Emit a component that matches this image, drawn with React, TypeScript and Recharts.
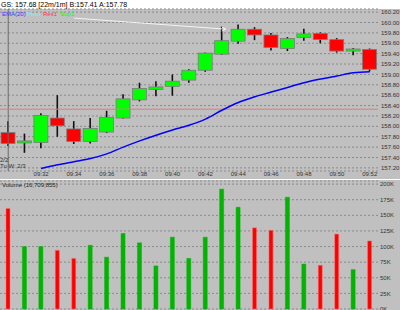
import {
  ComposedChart,
  Bar,
  Line,
  XAxis,
  YAxis,
  CartesianGrid,
  ReferenceLine,
  Cell,
} from "recharts";

const times = [
  "09:30", "09:31", "09:32", "09:33", "09:34", "09:35", "09:36", "09:37",
  "09:38", "09:39", "09:40", "09:41", "09:42", "09:43", "09:44", "09:45",
  "09:46", "09:47", "09:48", "09:49", "09:50", "09:51", "09:52",
];
const opens = [
  157.88, 157.68, 157.69, 158.16, 157.95, 157.71, 157.89, 158.16, 158.51, 158.71, 158.77, 158.89,
  159.08, 159.39, 159.64, 159.87, 159.76, 159.5, 159.71, 159.79, 159.67, 159.45, 159.48,
];
const highs = [
  158.1, 157.86, 158.25, 158.6, 158.1, 158.16, 158.3, 158.62, 158.84, 158.87, 159.0, 159.1,
  159.42, 159.92, 159.96, 159.91, 159.8, 159.72, 159.88, 159.81, 159.7, 159.51, 159.5,
];
const lows = [
  157.62, 157.49, 157.58, 157.8, 157.66, 157.67, 157.87, 158.15, 158.48, 158.58, 158.59, 158.84,
  159.05, 159.38, 159.59, 159.66, 159.46, 159.45, 159.65, 159.6, 159.42, 159.37, 159.06,
];
const closes = [
  157.67, 157.72, 158.21, 158.01, 157.71, 157.96, 158.17, 158.53, 158.73, 158.76, 158.87, 159.08,
  159.41, 159.65, 159.87, 159.76, 159.52, 159.69, 159.78, 159.67, 159.45, 159.49, 159.1,
];
const ema20 = [
  null, null, 157.19, 157.26, 157.32, 157.38, 157.47, 157.6, 157.72, 157.83, 157.93, 158.02,
  158.14, 158.31, 158.46, 158.57, 158.66, 158.75, 158.84, 158.91, 158.97, 159.03, 159.05,
];
const volumes = [
  161000, 100000, 100000, 94000, 81000, 102000, 83000, 121000, 106000, 69000, 115000, 81000,
  115000, 192000, 163000, 130000, 126000, 179000, 72000, 70000, 120000, 63000, 109000,
];
const priceTicks = [
  157.2, 157.4, 157.6, 157.8, 158.0, 158.2, 158.4, 158.6, 158.8, 159.0, 159.2, 159.4, 159.6,
  159.8, 160.0, 160.2,
];
const volumeTicks = [0, 25000, 50000, 75000, 100000, 125000, 150000, 175000, 200000];
const res1 = 158.33;
const trendStart = { x: "09:34", y: 160.085 };
const trendEnd = { x: "09:43", y: 159.873 };

const priceData = times.map((t, i) => ({
  t,
  open: opens[i],
  high: highs[i],
  low: lows[i],
  close: closes[i],
  range: [lows[i], highs[i]],
  ema: ema20[i],
}));

const volumeData = times.map((t, i) => ({
  t,
  vol: volumes[i],
  up: closes[i] >= opens[i],
}));

const font = "'Liberation Sans', Arial, sans-serif";

const Candle = (props: any) => {
  const { x, y, width, height, payload } = props;
  if (x == null || y == null) return null;
  const top = Math.min(y, y + height);
  const h = Math.abs(height);
  const { open, close, high, low } = payload;
  const span = high - low || 1;
  const toY = (v: number) => top + ((high - v) / span) * h;
  const up = close >= open;
  const bTop = toY(Math.max(open, close));
  const bBot = toY(Math.min(open, close));
  const cx = x + width / 2;
  return (
    <g>
      <line x1={cx} x2={cx} y1={top} y2={top + h} stroke="#111" strokeWidth={1.6} />
      <rect
        x={x}
        y={bTop}
        width={width}
        height={Math.max(bBot - bTop, 1.5)}
        fill={up ? "#00ff00" : "#ff0000"}
        stroke="#7c7c7c"
        strokeWidth={0.8}
      />
    </g>
  );
};

const TrendArrow = (p: any) => {
  const { x1, y1, x2, y2 } = p;
  if (x1 == null || x2 == null) return null;
  return (
    <g>
      <line x1={x1} y1={y1} x2={x2 + 3} y2={y2} stroke="#f4f4f4" strokeWidth={1} />
      <path
        d={`M${x2},${y2 - 2} L${x2 + 4},${y2} L${x2},${y2 + 2}`}
        fill="none"
        stroke="#f4f4f4"
        strokeWidth={1}
      />
    </g>
  );
};

const label = (text: string, left: number, top: number, color = "#222", size = 6) => (
  <div
    style={{
      position: "absolute",
      left,
      top,
      fontSize: size,
      lineHeight: 1,
      color,
      fontFamily: font,
      whiteSpace: "nowrap",
    }}
  >
    {text}
  </div>
);

export default function App() {
  return (
    <div
      style={{
        position: "absolute",
        left: 0,
        top: 0,
        width: 400,
        height: 310,
        background: "#c0c0c0",
        overflow: "hidden",
      }}
    >
      <div style={{ position: "absolute", left: 0, top: 0, width: 400, height: 9, background: "#fff" }} />
      {label("GS: 157.68 [22m/1m]  B:157.41 A:157.78", 1, 1, "#000", 7)}

      <div style={{ position: "absolute", left: 0, top: 0 }}>
        <ComposedChart
          width={400}
          height={179}
          data={priceData}
          margin={{ top: 9, right: 0, bottom: 0, left: 0 }}
        >
          <CartesianGrid vertical={false} stroke="#8a8a8a" strokeDasharray="2 2" />
          <XAxis
            dataKey="t"
            interval={0}
            height={8}
            axisLine={false}
            tickLine={false}
            tickSize={0}
            tickMargin={1}
            tick={{ fontSize: 6, fill: "#333", fontFamily: font }}
            tickFormatter={(v: string, i: number) => (i >= 2 && i % 2 === 0 ? v : "")}
          />
          <YAxis
            orientation="right"
            width={22}
            domain={[157.14, 160.26]}
            ticks={priceTicks}
            interval={0}
            axisLine={false}
            tickLine={false}
            tickSize={0}
            tickMargin={3}
            tick={{ fontSize: 6, fill: "#333", fontFamily: font }}
            tickFormatter={(v: number) => v.toFixed(2)}
          />
          <ReferenceLine x="09:30" stroke="#6a6a6a" strokeWidth={1} />
          <ReferenceLine y={res1} stroke="#e07a7a" strokeWidth={1} />
          <ReferenceLine segment={[trendStart, trendEnd]} shape={TrendArrow} />
          <Bar dataKey="range" barSize={14} shape={Candle} isAnimationActive={false} />
          <Line
            type="monotone"
            dataKey="ema"
            stroke="#0000ff"
            strokeWidth={1.5}
            dot={false}
            isAnimationActive={false}
          />
        </ComposedChart>
      </div>

      {label("EMA(20)", 2, 11, "#3a3aff")}
      {label("Pivot", 27, 11, "#8ae8ff")}
      {label("Res1", 43, 11, "#ff3a3a")}
      {label("Sup1", 60, 11, "#00ff00")}
      {label("2/2", 0, 157, "#333")}
      {label("Tu W: 2/3", 0, 163, "#333")}

      <div style={{ position: "absolute", left: 0, top: 179, width: 400, height: 1, background: "#fff" }} />

      <div style={{ position: "absolute", left: 0, top: 180 }}>
        <ComposedChart
          width={400}
          height={130}
          data={volumeData}
          margin={{ top: 1, right: 0, bottom: 1, left: 0 }}
        >
          <CartesianGrid vertical={false} stroke="#8a8a8a" strokeDasharray="2 2" />
          <XAxis dataKey="t" hide />
          <YAxis
            orientation="right"
            width={22}
            domain={[0, 205000]}
            ticks={volumeTicks}
            interval={0}
            axisLine={false}
            tickLine={false}
            tickSize={0}
            tickMargin={2}
            tick={{ fontSize: 6, fill: "#333", fontFamily: font }}
            tickFormatter={(v: number) => `${v / 1000}K`}
          />
          <Bar dataKey="vol" barSize={4} isAnimationActive={false}>
            {volumeData.map((d, i) => (
              <Cell
                key={i}
                fill={d.up ? "#00b400" : "#ff0000"}
                stroke={d.up ? "#00b400" : "#ff7070"}
                strokeWidth={0.5}
              />
            ))}
          </Bar>
        </ComposedChart>
      </div>

      {label("Volume (16,709,855)", 2, 182, "#222")}
    </div>
  );
}
